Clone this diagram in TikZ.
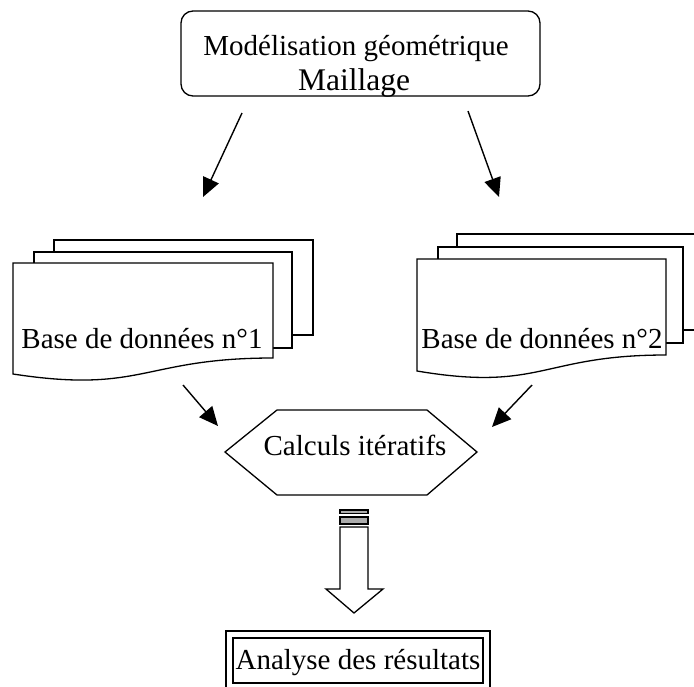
\documentclass[tikz,border=0pt]{standalone}
\usepackage{fontspec}
\setmainfont{Liberation Serif}
\usetikzlibrary{arrows.meta}
\begin{document}
\begin{tikzpicture}[x=1pt,y=-1pt,
  shapeline/.style={line width=1.3pt, line join=miter},
  lbl/.style={font=\fontsize{29}{33}\selectfont, inner sep=0pt, anchor=base},
  arr/.style={line width=1.4pt, -{Triangle[length=19pt,width=17pt]}},
  stripe/.style={line width=1.1pt, fill=gray!65},
]
\useasboundingbox (0,0) rectangle (694,686);
% top box
\draw[shapeline, rounded corners=12pt] (181,11) rectangle (540,96);
\node[lbl] (t1) at (356,55) {Modélisation géométrique};
\node[lbl, font=\fontsize{31.5}{35}\selectfont] (t2) at (354,90) {Maillage};
% arrows to databases
\coordinate (a1s) at (242,113); \coordinate (a1e) at (203,197);
\coordinate (a2s) at (468,111); \coordinate (a2e) at (499,197);
\draw[arr] (a1s) -- (a1e);
\draw[arr] (a2s) -- (a2e);
% database 1
\draw[shapeline, fill=white] (54,240) rectangle (313,335);
\draw[shapeline, fill=white] (34,252) rectangle (292,348);
\draw[shapeline, fill=white] (273,358) -- (273,263) -- (13,263) -- (13,374) .. controls (143,394) and (143,358) .. (273,358) -- cycle;
\node[lbl] (db1) at (142,348) {Base de données n°1};
% database 2
\draw[shapeline, fill=white] (694,234) -- (457,234) -- (457,330) -- (694,330);
\draw[shapeline, fill=white] (438,247) rectangle (683,343);
\draw[shapeline, fill=white] (666,355) -- (666,259) -- (417,259) -- (417,371) .. controls (541.5,392) and (541.5,355) .. (666,355) -- cycle;
\node[lbl] (db2) at (542,348) {Base de données n°2};
% arrows to hexagon
\coordinate (b1s) at (183,385); \coordinate (b1e) at (218,426);
\coordinate (b2s) at (532,385); \coordinate (b2e) at (492,427);
\draw[arr] (b1s) -- (b1e);
\draw[arr] (b2s) -- (b2e);
% hexagon
\draw[shapeline] (225,452) -- (277,410) -- (427,410) -- (477,452) -- (427,495) -- (277,495) -- cycle;
\node[lbl] (calc) at (355,455) {Calculs itératifs};
% hollow arrow
\draw[stripe] (340,510) rectangle (368,513.5);
\draw[stripe] (340,517) rectangle (368,524);
\draw[shapeline] (340,527) -- (340,589) -- (326,589) -- (354,613) -- (383,589) -- (368,589) -- (368,527) -- cycle;
% bottom box
\draw[shapeline] (226,631) rectangle (490,694);
\draw[shapeline] (233,638) rectangle (483,683);
\node[lbl] (res) at (358,669) {Analyse des résultats};
\end{tikzpicture}
\end{document}
